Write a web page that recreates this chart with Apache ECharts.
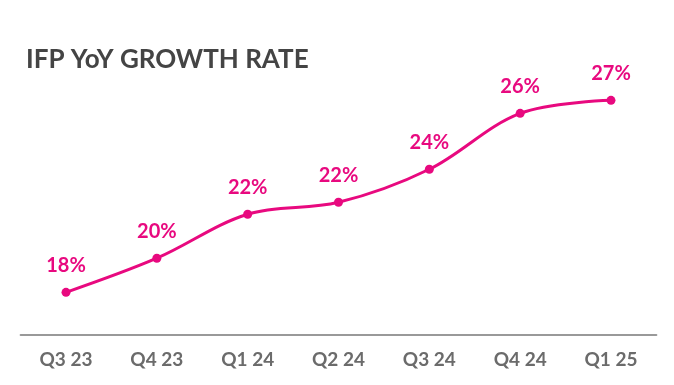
<!DOCTYPE html>
<html>
<head>
<meta charset="utf-8">
<script src="https://cdn.jsdelivr.net/npm/echarts@6/dist/echarts.min.js"></script>
<style>html,body{margin:0;padding:0;background:#fff;}#c{width:674px;height:385px;}</style>
</head>
<body>
<div id="c"></div>
<script>
var categories = ['Q3 23', 'Q4 23', 'Q1 24', 'Q2 24', 'Q3 24', 'Q4 24', 'Q1 25'];
var growthRate = [18.0, 19.6, 21.66, 22.22, 23.77, 26.39, 27.0];
var titleText = 'IFP YoY GROWTH RATE';

var chart = echarts.init(document.getElementById('c'));
chart.setOption({
  backgroundColor: '#fff',
  animation: false,
  title: {
    text: titleText,
    left: 21, top: 42,
    textStyle: { fontFamily: 'Lato', fontWeight: 'bold', fontSize: 26, color: '#444444' }
  },
  grid: { left: 20.6, right: 17.6, top: 79, bottom: 50 },
  xAxis: {
    type: 'category',
    data: categories,
    boundaryGap: true,
    axisLine: { lineStyle: { color: '#999999', width: 2 } },
    axisTick: { show: false },
    axisLabel: { margin: 15, fontFamily: 'Lato', fontWeight: 'bold', fontSize: 19, color: '#6b6b6b' }
  },
  yAxis: {
    type: 'value', min: 16, max: 28,
    show: false,
    splitLine: { show: false }
  },
  series: [{
    type: 'line',
    data: growthRate,
    smooth: 0.35,
    symbol: 'circle',
    symbolSize: 9,
    lineStyle: { color: '#E8097F', width: 3 },
    itemStyle: { color: '#E8097F' },
    label: {
      show: true, position: 'top', distance: 12,
      formatter: function (p) { return Math.round(p.value) + '%'; },
      fontFamily: 'Lato', fontWeight: 'bold', fontSize: 20, color: '#E8097F'
    }
  }]
});
</script>
</body>
</html>
